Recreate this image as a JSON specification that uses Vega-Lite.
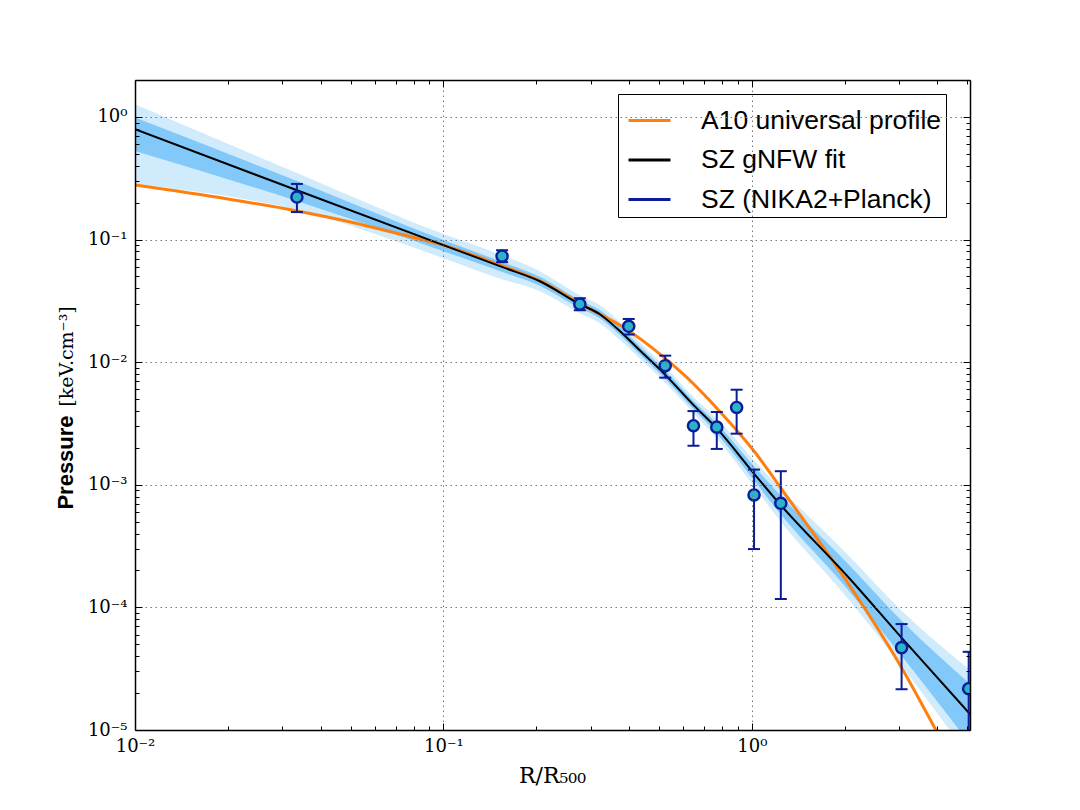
{
  "$schema": "https://vega.github.io/schema/vega-lite/v6.json",
  "width": 835,
  "height": 650,
  "autosize": {"type": "none"},
  "padding": {"left": 135, "top": 80, "right": 110, "bottom": 80},
  "background": "white",
  "config": {"view": {"stroke": null}},
  "datasets": {
    "bands": [
      {"r": 0.01, "dlo": 0.5276, "dhi": 0.987, "llo": 0.2836, "lhi": 1.27},
      {"r": 0.0335, "dlo": 0.2059, "dhi": 0.3, "llo": 0.1739, "lhi": 0.3487},
      {"r": 0.1, "dlo": 0.0804, "dhi": 0.0989, "llo": 0.0705, "lhi": 0.1107},
      {"r": 0.1547, "dlo": 0.0545, "dhi": 0.0657, "llo": 0.0475, "lhi": 0.0746},
      {"r": 0.2055, "dlo": 0.042, "dhi": 0.0498, "llo": 0.0379, "lhi": 0.0552},
      {"r": 0.277, "dlo": 0.0275, "dhi": 0.032, "llo": 0.02504, "lhi": 0.0351},
      {"r": 0.3217, "dlo": 0.0228, "dhi": 0.0265, "llo": 0.02075, "lhi": 0.0291},
      {"r": 0.365, "dlo": 0.01752, "dhi": 0.02036, "llo": 0.01594, "lhi": 0.02237},
      {"r": 0.4433, "dlo": 0.01094, "dhi": 0.01272, "llo": 0.01015, "lhi": 0.01372},
      {"r": 0.5224, "dlo": 0.00737, "dhi": 0.00857, "llo": 0.00684, "lhi": 0.00924},
      {"r": 0.6486, "dlo": 0.00412, "dhi": 0.00478, "llo": 0.00382, "lhi": 0.00516},
      {"r": 0.77, "dlo": 0.00262, "dhi": 0.00316, "llo": 0.00238, "lhi": 0.00347},
      {"r": 1.015, "dlo": 0.001093, "dhi": 0.001422, "llo": 0.000976, "lhi": 0.001591},
      {"r": 1.205, "dlo": 0.000627, "dhi": 0.00088, "llo": 0.00055, "lhi": 0.001004},
      {"r": 2.078, "dlo": 0.0001341, "dhi": 0.0002187, "llo": 0.0001132, "lhi": 0.000259},
      {"r": 3.063, "dlo": 0.0000402, "dhi": 0.0000777, "llo": 0.0000333, "lhi": 0.0000938},
      {"r": 5.1, "dlo": 0.00000769, "dhi": 0.00002376, "llo": 0.0000059, "lhi": 0.0000309}
    ],
    "a10": [
      {"series": "A10 universal profile", "r": 0.01, "p": 0.278},
      {"series": "A10 universal profile", "r": 0.02, "p": 0.214},
      {"series": "A10 universal profile", "r": 0.0335, "p": 0.171},
      {"series": "A10 universal profile", "r": 0.05, "p": 0.139},
      {"series": "A10 universal profile", "r": 0.07, "p": 0.113},
      {"series": "A10 universal profile", "r": 0.1, "p": 0.09},
      {"series": "A10 universal profile", "r": 0.155, "p": 0.061},
      {"series": "A10 universal profile", "r": 0.2055, "p": 0.046},
      {"series": "A10 universal profile", "r": 0.277, "p": 0.0302},
      {"series": "A10 universal profile", "r": 0.3216, "p": 0.02458},
      {"series": "A10 universal profile", "r": 0.365, "p": 0.02075},
      {"series": "A10 universal profile", "r": 0.4776, "p": 0.01296},
      {"series": "A10 universal profile", "r": 0.6157, "p": 0.00751},
      {"series": "A10 universal profile", "r": 0.7876, "p": 0.003963},
      {"series": "A10 universal profile", "r": 1.0074, "p": 0.001939},
      {"series": "A10 universal profile", "r": 1.3282, "p": 0.000743},
      {"series": "A10 universal profile", "r": 2.078, "p": 0.0001502},
      {"series": "A10 universal profile", "r": 2.599, "p": 0.0000632},
      {"series": "A10 universal profile", "r": 3.063, "p": 0.0000321},
      {"series": "A10 universal profile", "r": 3.92, "p": 0.00001038},
      {"series": "A10 universal profile", "r": 4.9, "p": 0.00000362}
    ],
    "fit": [
      {"series": "SZ gNFW fit", "r": 0.01, "p": 0.793},
      {"series": "SZ gNFW fit", "r": 0.0335, "p": 0.2523},
      {"series": "SZ gNFW fit", "r": 0.1, "p": 0.09},
      {"series": "SZ gNFW fit", "r": 0.1547, "p": 0.0598},
      {"series": "SZ gNFW fit", "r": 0.2055, "p": 0.0457},
      {"series": "SZ gNFW fit", "r": 0.277, "p": 0.02967},
      {"series": "SZ gNFW fit", "r": 0.3217, "p": 0.02458},
      {"series": "SZ gNFW fit", "r": 0.365, "p": 0.01888},
      {"series": "SZ gNFW fit", "r": 0.4433, "p": 0.0118},
      {"series": "SZ gNFW fit", "r": 0.5224, "p": 0.00795},
      {"series": "SZ gNFW fit", "r": 0.6486, "p": 0.00444},
      {"series": "SZ gNFW fit", "r": 0.77, "p": 0.00288},
      {"series": "SZ gNFW fit", "r": 1.015, "p": 0.00124},
      {"series": "SZ gNFW fit", "r": 1.205, "p": 0.000743},
      {"series": "SZ gNFW fit", "r": 2.078, "p": 0.0001713},
      {"series": "SZ gNFW fit", "r": 3.063, "p": 0.0000564},
      {"series": "SZ gNFW fit", "r": 5.1, "p": 0.0000135}
    ],
    "points": [
      {"r": 0.0335, "p": 0.222, "lo": 0.1675, "hi": 0.284},
      {"r": 0.155, "p": 0.0731, "lo": 0.0654, "hi": 0.0818},
      {"r": 0.277, "p": 0.0297, "lo": 0.0265, "hi": 0.0332},
      {"r": 0.399, "p": 0.0196, "lo": 0.0168, "hi": 0.0225},
      {"r": 0.524, "p": 0.00936, "lo": 0.00747, "hi": 0.0113},
      {"r": 0.647, "p": 0.00303, "lo": 0.00208, "hi": 0.00399},
      {"r": 0.77, "p": 0.00295, "lo": 0.00196, "hi": 0.00392},
      {"r": 0.893, "p": 0.00427, "lo": 0.00261, "hi": 0.00596},
      {"r": 1.017, "p": 0.000826, "lo": 0.000299, "hi": 0.00133},
      {"r": 1.242, "p": 0.000706, "lo": 0.000117, "hi": 0.00129},
      {"r": 3.06, "p": 0.000047, "lo": 0.0000215, "hi": 0.0000731},
      {"r": 5.05, "p": 0.0000217, "lo": 0.000005, "hi": 0.0000434}
    ]
  },
  "layer": [
    {
      "data": {"name": "bands"},
      "mark": {"type": "area", "color": "#d0ebfc", "interpolate": "monotone", "clip": true},
      "encoding": {
        "x": {"field": "r", "type": "quantitative",
          "scale": {"type": "log", "domain": [0.01, 5.1], "nice": false},
          "axis": {"orient": "bottom", "values": [0.01, 0.1, 1], "grid": true, "gridDash": [1.5, 3.5], "gridColor": "#777777", "gridWidth": 1,
            "tickSize": -7, "tickColor": "black", "tickWidth": 1, "domain": true, "domainColor": "black", "domainWidth": 1.5,
            "labelExpr": "'10' + (datum.value > 0.5 ? '⁰' : datum.value > 0.05 ? '⁻¹' : datum.value > 0.005 ? '⁻²' : datum.value > 0.0005 ? '⁻³' : datum.value > 0.00005 ? '⁻⁴' : '⁻⁵')",
            "labelFont": "DejaVu Serif", "labelFontSize": 18, "labelColor": "black", "labelPadding": 14, "labelFlush": false, "labelOverlap": false,
            "title": "R/R₅₀₀", "titleFont": "DejaVu Serif", "titleFontSize": 22, "titleFontWeight": "normal", "titleColor": "black",
            "titleBaseline": "alphabetic", "titleY": 52, "titleX": 417, "zindex": 1}},
        "y": {"field": "llo", "type": "quantitative",
          "scale": {"type": "log", "domain": [0.00001, 2], "nice": false},
          "axis": {"orient": "left", "values": [0.00001, 0.0001, 0.001, 0.01, 0.1, 1], "grid": true, "gridDash": [1.5, 3.5], "gridColor": "#777777", "gridWidth": 1,
            "tickSize": -7, "tickColor": "black", "tickWidth": 1, "domain": true, "domainColor": "black", "domainWidth": 1.5,
            "labelExpr": "'10' + (datum.value > 0.5 ? '⁰' : datum.value > 0.05 ? '⁻¹' : datum.value > 0.005 ? '⁻²' : datum.value > 0.0005 ? '⁻³' : datum.value > 0.00005 ? '⁻⁴' : '⁻⁵')",
            "labelFont": "DejaVu Serif", "labelFontSize": 18, "labelColor": "black", "labelPadding": 15, "labelFlush": false, "labelOverlap": false,
            "title": "Pressure", "titleFont": "Liberation Sans", "titleFontSize": 22, "titleFontWeight": "bold", "titleColor": "black",
            "titleBaseline": "alphabetic", "titleAngle": 270, "titleX": -63, "titleY": 382, "zindex": 1}},
        "y2": {"field": "lhi"}
      }
    },
    {
      "data": {"name": "bands"},
      "mark": {"type": "area", "color": "#82c8f9", "interpolate": "monotone", "clip": true},
      "encoding": {
        "x": {"field": "r", "type": "quantitative",
          "scale": {"type": "log", "domain": [0.01, 5.1], "nice": false},
          "axis": {"orient": "bottom", "values": [0.02, 0.03, 0.04, 0.05, 0.06, 0.07, 0.08, 0.09, 0.2, 0.3, 0.4, 0.5, 0.6, 0.7, 0.8, 0.9, 2, 3, 4, 5],
            "grid": false, "labels": false, "domain": false, "tickSize": -4, "tickColor": "black", "tickWidth": 1, "title": null, "zindex": 1}},
        "y": {"field": "dlo", "type": "quantitative",
          "scale": {"type": "log", "domain": [0.00001, 2], "nice": false},
          "axis": {"orient": "left", "values": [0.00002, 0.00003, 0.00004, 0.00005, 0.00006, 0.00007, 0.00008, 0.00009, 0.0002, 0.0003, 0.0004, 0.0005, 0.0006, 0.0007, 0.0008, 0.0009, 0.002, 0.003, 0.004, 0.005, 0.006, 0.007, 0.008, 0.009, 0.02, 0.03, 0.04, 0.05, 0.06, 0.07, 0.08, 0.09, 0.2, 0.3, 0.4, 0.5, 0.6, 0.7, 0.8, 0.9, 2],
            "grid": false, "labels": false, "domain": false, "tickSize": -4, "tickColor": "black", "tickWidth": 1, "title": null, "zindex": 1}},
        "y2": {"field": "dhi"}
      }
    },
    {
      "data": {"name": "a10"},
      "mark": {"type": "line", "interpolate": "monotone", "strokeWidth": 3, "clip": true},
      "encoding": {
        "x": {"field": "r", "type": "quantitative",
          "scale": {"type": "log", "domain": [0.01, 5.1], "nice": false},
          "axis": {"orient": "top", "values": [0.01, 0.1, 1], "grid": false, "labels": false, "domain": true, "domainColor": "black", "domainWidth": 1.5,
            "tickSize": -7, "tickColor": "black", "tickWidth": 1, "title": null, "zindex": 1}},
        "y": {"field": "p", "type": "quantitative",
          "scale": {"type": "log", "domain": [0.00001, 2], "nice": false},
          "axis": {"orient": "left", "labels": false, "ticks": false, "domain": false, "grid": false,
            "title": "[keV.cm⁻³]", "titleFont": "DejaVu Serif", "titleFontSize": 19, "titleFontWeight": "normal", "titleColor": "black",
            "titleBaseline": "alphabetic", "titleAngle": 270, "titleX": -63, "titleY": 276}},
        "stroke": {"field": "series", "type": "nominal",
          "scale": {"domain": ["A10 universal profile", "SZ gNFW fit", "SZ (NIKA2+Planck)"], "range": ["#ff7f0e", "#000000", "#0b1c99"]},
          "legend": {
            "title": null, "orient": "none", "legendX": 483, "legendY": 14,
            "padding": 4, "strokeColor": "black", "fillColor": "white", "cornerRadius": 0,
            "labelFont": "Liberation Sans", "labelFontSize": 26.5, "labelColor": "black", "labelLimit": 400,
            "symbolSize": 400, "symbolOffset": 5, "labelOffset": 29, "rowPadding": 3.5,
            "encode": {"symbols": {"update": {
              "shape": {"condition": [
                {"test": "datum.value === 'SZ gNFW fit'", "value": "M-1,-0.33H1V0.33H-1Z"}
              ], "value": "stroke"},
              "size": {"condition": [
                {"test": "datum.value === 'SZ gNFW fit'", "value": 2916}
              ], "value": 1764},
              "fill": {"condition": [
                {"test": "datum.value === 'SZ (NIKA2+Planck)'", "value": "#2bb3c9"}
              ], "value": "transparent"},
              "strokeWidth": {"condition": [
                {"test": "datum.value === 'SZ gNFW fit'", "value": 2}
              ], "value": 3},
              "opacity": {"value": 1}
            }}}
          }}
      }
    },
    {
      "data": {"name": "fit"},
      "mark": {"type": "line", "interpolate": "monotone", "color": "#000000", "strokeWidth": 2, "clip": true},
      "encoding": {
        "x": {"field": "r", "type": "quantitative",
          "scale": {"type": "log", "domain": [0.01, 5.1], "nice": false}, "axis": null},
        "y": {"field": "p", "type": "quantitative",
          "scale": {"type": "log", "domain": [0.00001, 2], "nice": false}, "axis": null}
      }
    },
    {
      "data": {"name": "points"},
      "mark": {"type": "rule", "color": "#0b1c99", "strokeWidth": 2, "clip": true},
      "encoding": {
        "x": {"field": "r", "type": "quantitative",
          "scale": {"type": "log", "domain": [0.01, 5.1], "nice": false},
          "axis": {"orient": "top", "values": [0.02, 0.03, 0.04, 0.05, 0.06, 0.07, 0.08, 0.09, 0.2, 0.3, 0.4, 0.5, 0.6, 0.7, 0.8, 0.9, 2, 3, 4, 5],
            "grid": false, "labels": false, "domain": false, "tickSize": -4, "tickColor": "black", "tickWidth": 1, "title": null, "zindex": 1}},
        "y": {"field": "lo", "type": "quantitative",
          "scale": {"type": "log", "domain": [0.00001, 2], "nice": false},
          "axis": {"orient": "right", "values": [0.00001, 0.0001, 0.001, 0.01, 0.1, 1], "grid": false, "labels": false, "domain": true, "domainColor": "black", "domainWidth": 1.5,
            "tickSize": -7, "tickColor": "black", "tickWidth": 1, "title": null, "zindex": 1}},
        "y2": {"field": "hi"}
      }
    },
    {
      "data": {"name": "points"},
      "transform": [{"fold": ["lo", "hi"], "as": ["end", "val"]}],
      "mark": {"type": "tick", "orient": "horizontal", "color": "#0b1c99", "size": 12, "thickness": 2, "opacity": 1, "clip": true},
      "encoding": {
        "x": {"field": "r", "type": "quantitative",
          "scale": {"type": "log", "domain": [0.01, 5.1], "nice": false}, "axis": null},
        "y": {"field": "val", "type": "quantitative",
          "scale": {"type": "log", "domain": [0.00001, 2], "nice": false},
          "axis": {"orient": "right", "values": [0.00002, 0.00003, 0.00004, 0.00005, 0.00006, 0.00007, 0.00008, 0.00009, 0.0002, 0.0003, 0.0004, 0.0005, 0.0006, 0.0007, 0.0008, 0.0009, 0.002, 0.003, 0.004, 0.005, 0.006, 0.007, 0.008, 0.009, 0.02, 0.03, 0.04, 0.05, 0.06, 0.07, 0.08, 0.09, 0.2, 0.3, 0.4, 0.5, 0.6, 0.7, 0.8, 0.9, 2],
            "grid": false, "labels": false, "domain": false, "tickSize": -4, "tickColor": "black", "tickWidth": 1, "title": null, "zindex": 1}}
      }
    },
    {
      "data": {"name": "points"},
      "mark": {"type": "point", "shape": "circle", "filled": true, "size": 125, "fill": "#2bb3c9", "stroke": "#0b1c99", "strokeWidth": 2.4, "opacity": 1, "clip": true},
      "encoding": {
        "x": {"field": "r", "type": "quantitative",
          "scale": {"type": "log", "domain": [0.01, 5.1], "nice": false}, "axis": null},
        "y": {"field": "p", "type": "quantitative",
          "scale": {"type": "log", "domain": [0.00001, 2], "nice": false}, "axis": null}
      }
    }
  ],
  "resolve": {"axis": {"x": "independent", "y": "independent"}}
}
